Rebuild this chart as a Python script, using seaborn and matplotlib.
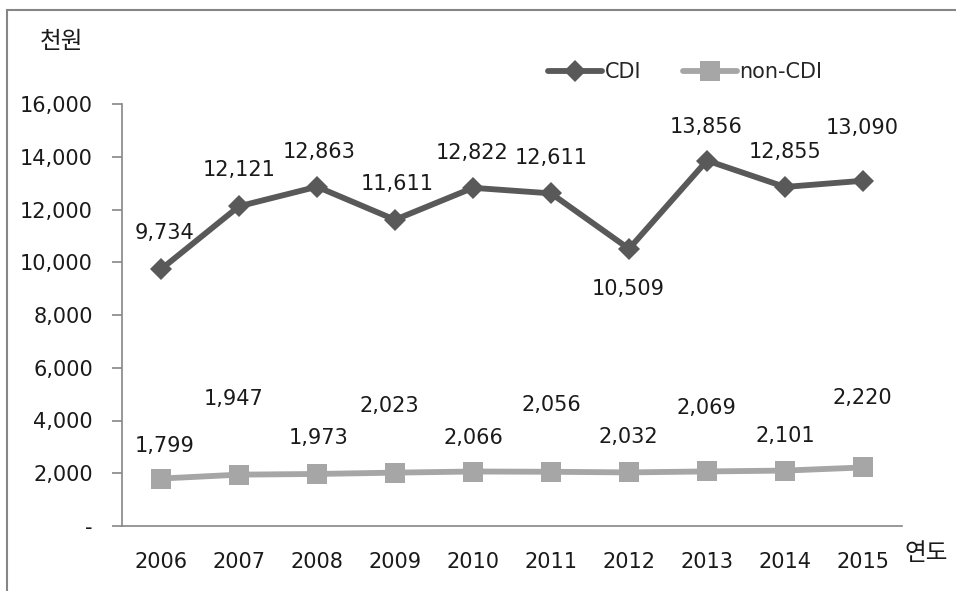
import matplotlib
matplotlib.use("Agg")
import matplotlib.pyplot as plt
import matplotlib.ticker as mticker
from matplotlib.patches import Rectangle
import seaborn as sns
import pandas as pd

years = ["2006", "2007", "2008", "2009", "2010", "2011", "2012", "2013", "2014", "2015"]
cdi = [9734, 12121, 12863, 11611, 12822, 12611, 10509, 13856, 12855, 13090]
non_cdi = [1799, 1947, 1973, 2023, 2066, 2056, 2032, 2069, 2101, 2220]
series_names = ["CDI", "non-CDI"]
y_ticks = [0, 2000, 4000, 6000, 8000, 10000, 12000, 14000, 16000]

# label offsets in pixels (dx, dy)
cdi_offsets = [(3, 36), (0, 36), (2, 35), (2, 36), (-1, 35), (0, 35), (-1, -40), (-1, 34), (0, 35), (-1, 53)]
non_offsets = [(4, 33), (-5, 76), (2, 36), (-6, 67), (0, 34), (0, 67), (-1, 35), (-1, 63), (0, 35), (-1, 69)]

sns.set_theme(style="white")
plt.rcParams["font.family"] = ["DejaVu Sans", "Noto Sans CJK KR"]

fig = plt.figure(figsize=(9.56, 5.91), dpi=100)
ax = fig.add_axes([122 / 956, 1 - 526 / 591, 780 / 956, 422 / 591])

df = pd.DataFrame({
    "year": years * 2,
    "value": cdi + non_cdi,
    "series": [series_names[0]] * len(years) + [series_names[1]] * len(years),
})

dark = "#595959"
light = "#A6A6A6"
fs = 15
sns.lineplot(data=df[df.series == "CDI"], x="year", y="value", ax=ax, color=dark,
             linewidth=4.2, marker="D", markersize=11, markeredgewidth=0,
             label="CDI", sort=False)
sns.lineplot(data=df[df.series == "non-CDI"], x="year", y="value", ax=ax, color=light,
             linewidth=4.2, marker="s", markersize=14, markeredgewidth=0,
             label="non-CDI", sort=False)

for i, v in enumerate(cdi):
    ax.annotate(f"{v:,}", (i, v), xytext=cdi_offsets[i], textcoords="offset pixels",
                ha="center", va="center", fontsize=fs, color="#1a1a1a")
for i, v in enumerate(non_cdi):
    ax.annotate(f"{v:,}", (i, v), xytext=non_offsets[i], textcoords="offset pixels",
                ha="center", va="center", fontsize=fs, color="#1a1a1a")

ax.set_xlim(-0.5, len(years) - 0.5)
ax.set_ylim(0, 16000)
ax.set_yticks(y_ticks)
ax.yaxis.set_major_formatter(mticker.FuncFormatter(lambda v, p: "-" if v == 0 else f"{v:,.0f}"))
ax.set_xticks(range(len(years)))
ax.set_xticklabels(years)
ax.set_xticks([i - 0.5 for i in range(len(years) + 1)], minor=True)
ax.tick_params(axis="x", which="major", length=0, pad=19, labelsize=fs, labelcolor="#1a1a1a")
ax.tick_params(axis="x", which="minor", length=7, width=1.2, color="#868686", direction="out")
ax.tick_params(axis="y", which="major", length=7, width=1.2, color="#868686", direction="out",
               pad=14, labelsize=fs, labelcolor="#1a1a1a", left=True)
ax.set_xlabel("")
ax.set_ylabel("")
for s in ["top", "right"]:
    ax.spines[s].set_visible(False)
for s in ["left", "bottom"]:
    ax.spines[s].set_color("#868686")
    ax.spines[s].set_linewidth(1.2)
ax.grid(False)

leg = ax.legend(loc="center", bbox_to_anchor=(685 / 956, 1 - 72 / 591), bbox_transform=fig.transFigure,
                ncol=2, frameon=False, fontsize=fs, handlelength=2.6, handletextpad=0.1,
                columnspacing=2.0)

fig.text(62 / 956, 1 - 42 / 591, "천원", ha="center", va="center", fontsize=17,
         family=["Noto Sans CJK KR", "DejaVu Sans"], color="#1a1a1a")
fig.text(926 / 956, 1 - 553 / 591, "연도", ha="center", va="center", fontsize=17,
         family=["Noto Sans CJK KR", "DejaVu Sans"], color="#1a1a1a")

# outer chart border (right and bottom edges fall outside the image, as in the reference)
fig.patches.append(Rectangle((7 / 956, -10 / 591), 970 / 956, 591 / 591,
                             transform=fig.transFigure, fill=False, edgecolor="#868686",
                             linewidth=1.5, clip_on=False))

fig.savefig("out.png", dpi=100)
